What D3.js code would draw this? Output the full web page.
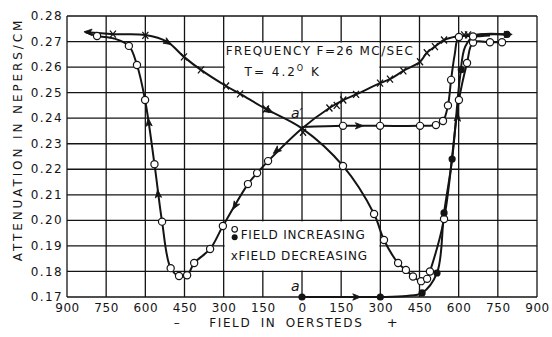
<!DOCTYPE html>
<html>
<head>
<meta charset="utf-8">
<script src="https://cdn.jsdelivr.net/npm/d3@7"></script>
<style>
body { margin: 0; background: #fff; }
svg text { font-family: "DejaVu Sans", sans-serif; fill: #141414; }
</style>
</head>
<body>
<div id="chart"></div>
<script>
// axis ticks
var fieldTicks = [-900, -750, -600, -450, -300, -150, 0, 150, 300, 450, 600, 750, 900];
var attnTicks = [0.17, 0.18, 0.19, 0.20, 0.21, 0.22, 0.23, 0.24, 0.25, 0.26, 0.27, 0.28];

// curves, [field (Oe), attenuation (nepers/cm)]
// from negative saturation, field decreasing to a', then increasing to positive saturation
var loopNegToPos = [[-830,0.2737],[-724,0.2729],[-600,0.2726],[-517,0.2700],[-452,0.2640],[-387,0.2589],[-291,0.2526],[-237,0.2495],[-138,0.2436],[0,0.2360],[157,0.2213],[276,0.2025],[314,0.1923],[368,0.1833],[398,0.1806],[425,0.1780],[456,0.1762],[479,0.1771],[490,0.1800],[544,0.2005],[601,0.2471],[632,0.2616],[655,0.2696],[720,0.2697],[766,0.2697]];
// from positive saturation, field decreasing to a', then increasing to negative saturation
var loopPosToNeg = [[785,0.2728],[700,0.2728],[636,0.2726],[590,0.2720],[544,0.2706],[509,0.2680],[478,0.2656],[452,0.2621],[388,0.2585],[337,0.2553],[299,0.2537],[207,0.2493],[158,0.2471],[105,0.2440],[0,0.2360],[-130,0.2232],[-172,0.2185],[-207,0.2142],[-303,0.1978],[-352,0.1888],[-413,0.1833],[-440,0.1785],[-471,0.1782],[-503,0.1813],[-536,0.1995],[-565,0.2220],[-601,0.2471],[-632,0.2608],[-663,0.2683],[-720,0.2712],[-785,0.2722],[-830,0.2737]];
// from a', field increasing
var fromAPrime = [[0,0.2365],[157,0.2370],[299,0.2370],[452,0.2370],[513,0.2373],[540,0.2389],[559,0.2450],[571,0.2550],[585,0.2650],[601,0.2718],[655,0.2720],[720,0.2724]];
// virgin curve from a
var fromA = [[0,0.1700],[150,0.1700],[300,0.1700],[400,0.1704],[460,0.1716],[517,0.1794],[544,0.2029],[575,0.2240],[605,0.2560],[625,0.2680],[660,0.2722],[785,0.2728]];

// measured points
var openPts = [[157,0.2213],[276,0.2025],[314,0.1923],[368,0.1833],[398,0.1806],[425,0.1780],[456,0.1762],[479,0.1771],[490,0.1800],[544,0.2005],[601,0.2471],[632,0.2616],[655,0.2696],[720,0.2697],[766,0.2697],
  [-130,0.2232],[-172,0.2185],[-207,0.2142],[-303,0.1978],[-352,0.1888],[-413,0.1833],[-440,0.1785],[-471,0.1782],[-503,0.1813],[-536,0.1995],[-565,0.2220],[-601,0.2471],[-632,0.2608],[-663,0.2683],[-785,0.2722],
  [157,0.2370],[299,0.2370],[452,0.2370],[513,0.2373],[540,0.2389],[559,0.2450],[571,0.2550],[601,0.2718],[655,0.2720]];
var filledPts = [[0,0.1700],[300,0.1700],[460,0.1716],[517,0.1794],[544,0.2029],[575,0.2240],[610,0.2590],[785,0.2728]];
var crossPts = [[-724,0.2729],[-600,0.2724],[-452,0.2640],[-387,0.2589],[-291,0.2526],[-237,0.2495],[-138,0.2436],[4,0.2345],
  [105,0.2440],[133,0.2450],[158,0.2471],[207,0.2493],[299,0.2537],[337,0.2553],[388,0.2585],[452,0.2621],[478,0.2656],[509,0.2680],[544,0.2706],[621,0.2726],[636,0.2726]];

// direction arrows: [tip, tail]
var arrows = [
  [[-835,0.2738],[-800,0.2736]],
  [[-500,0.2688],[-535,0.2710]],
  [[-112,0.2421],[-150,0.2443]],
  [[-110,0.2262],[-75,0.2292]],
  [[-265,0.2043],[-235,0.2094]],
  [[-589,0.2400],[-582,0.2330]],
  [[-553,0.2120],[-546,0.2050]],
  [[235,0.2370],[200,0.2370]],
  [[225,0.1700],[190,0.1700]],
  [[805,0.2728],[765,0.2728]],
  [[597,0.2420],[592,0.2350]]
];

var W = 552, H = 337;
var margin = { top: 16, right: 15, bottom: 40, left: 67 },
    width = W - margin.left - margin.right,
    height = H - margin.top - margin.bottom;

var svg = d3.select("#chart").append("svg")
    .attr("width", W).attr("height", H);
var g = svg.append("g")
    .attr("transform", "translate(" + margin.left + "," + margin.top + ")");

var x = d3.scaleLinear().domain([-900, 900]).range([0, width]);
var y = d3.scaleLinear().domain([0.17, 0.28]).range([height, 0]);
var ink = "#141414";

// grid
g.selectAll(".vgrid").data(fieldTicks).enter().append("line")
    .attr("x1", d => x(d)).attr("x2", d => x(d))
    .attr("y1", 0).attr("y2", height)
    .attr("stroke", ink).attr("stroke-width", 1.3);
g.selectAll(".hgrid").data(attnTicks).enter().append("line")
    .attr("x1", 0).attr("x2", width)
    .attr("y1", d => y(d)).attr("y2", d => y(d))
    .attr("stroke", ink).attr("stroke-width", 1.3);

// white boxes for the title and the legend
function whiteBox(h0, h1, a0, a1) {
  g.append("rect")
    .attr("x", x(h0) + 1).attr("y", y(a1) + 1)
    .attr("width", x(h1) - x(h0) - 2).attr("height", y(a0) - y(a1) - 2)
    .attr("fill", "#fff");
}
whiteBox(-300, 300, 0.25, 0.27);
whiteBox(-300, 300, 0.18, 0.20);

// axes
var xAxis = g.append("g")
    .attr("transform", "translate(0," + height + ")")
    .call(d3.axisBottom(x).tickValues(fieldTicks).tickSize(0).tickPadding(6)
      .tickFormat(d => Math.abs(d)));
xAxis.select(".domain").remove();
xAxis.selectAll("text").style("font-size", "12px").style("letter-spacing", "0.6px")
    .attr("fill", ink);

var yAxis = g.append("g")
    .call(d3.axisLeft(y).tickValues(attnTicks).tickSize(0).tickPadding(4)
      .tickFormat(d3.format(".2f")));
yAxis.select(".domain").remove();
yAxis.selectAll("text").style("font-size", "12px").style("letter-spacing", "1.4px")
    .attr("fill", ink).attr("dy", "0.3em");

// titles
svg.append("text")
    .attr("transform", "translate(18," + (margin.top + height / 2 - 17) + ")rotate(-90)")
    .attr("text-anchor", "middle")
    .attr("dy", "0.36em")
    .style("font-size", "12px").style("letter-spacing", "2.9px")
    .text("ATTENUATION IN NEPERS/CM");

svg.append("text")
    .attr("x", margin.left + x(-60)).attr("y", 327)
    .attr("text-anchor", "middle")
    .style("font-size", "12px").style("letter-spacing", "1.6px").style("word-spacing", "4px")
    .text("FIELD IN OERSTEDS");
svg.append("text").attr("x", margin.left + x(-480)).attr("y", 327)
    .attr("text-anchor", "middle").style("font-size", "12px").text("–");
svg.append("text").attr("x", margin.left + x(345)).attr("y", 327)
    .attr("text-anchor", "middle").style("font-size", "13px").text("+");

// curves
var line = d3.line()
    .x(d => x(d[0])).y(d => y(d[1]))
    .curve(d3.curveCatmullRom.alpha(0.5));

[loopNegToPos, loopPosToNeg, fromAPrime, fromA].forEach(function (c) {
  g.append("path").datum(c)
    .attr("d", line)
    .attr("fill", "none").attr("stroke", ink)
    .attr("stroke-width", 2).attr("stroke-linejoin", "round");
});

// arrows
g.selectAll(".arrow").data(arrows).enter().append("path")
    .attr("transform", function (d) {
      var tx = x(d[0][0]), ty = y(d[0][1]);
      var ang = Math.atan2(ty - y(d[1][1]), tx - x(d[1][0])) * 180 / Math.PI;
      return "translate(" + tx + "," + ty + ")rotate(" + ang + ")";
    })
    .attr("d", "M0,0L-8,-3.2L-6,0L-8,3.2Z")
    .attr("fill", ink).attr("stroke", ink).attr("stroke-width", 0.8);

// markers
g.selectAll(".cross").data(crossPts).enter().append("path")
    .attr("transform", d => "translate(" + x(d[0]) + "," + y(d[1]) + ")")
    .attr("d", "M-3,-3.5L3,3.5M-3,3.5L3,-3.5")
    .attr("stroke", ink).attr("stroke-width", 1.3);

g.selectAll(".open").data(openPts).enter().append("circle")
    .attr("cx", d => x(d[0])).attr("cy", d => y(d[1]))
    .attr("r", 3.6)
    .attr("fill", "#fff").attr("stroke", ink).attr("stroke-width", 1.2);

g.selectAll(".filled").data(filledPts).enter().append("circle")
    .attr("cx", d => x(d[0])).attr("cy", d => y(d[1]))
    .attr("r", 3.6).attr("fill", ink);

// point labels
g.append("text").attr("x", x(0) - 11).attr("y", y(0.17) - 6)
    .style("font-size", "14px").style("font-style", "italic").text("a");
g.append("text").attr("x", x(0) - 11).attr("y", y(0.236) - 10)
    .style("font-size", "14px").style("font-style", "italic").text("a′");

// title box text
g.append("text").attr("x", x(-300) + 2).attr("y", y(0.27) + 13)
    .style("font-size", "12px").style("letter-spacing", "1.4px")
    .text("FREQUENCY F=26 MC/SEC");
var tt = g.append("text").attr("x", x(-220)).attr("y", y(0.26) + 9)
    .style("font-size", "12px").style("letter-spacing", "2px");
tt.append("tspan").text("T= 4.2");
tt.append("tspan").attr("dy", -5).style("font-size", "8px").text("O");
tt.append("tspan").attr("dy", 5).text(" K");

// legend
var lx = x(-300);
g.append("circle").attr("cx", lx + 11).attr("cy", y(0.20) + 9).attr("r", 2.8)
    .attr("fill", "#fff").attr("stroke", ink).attr("stroke-width", 1.1);
g.append("circle").attr("cx", lx + 11).attr("cy", y(0.20) + 17).attr("r", 3).attr("fill", ink);
g.append("text").attr("x", lx + 17).attr("y", y(0.20) + 19)
    .style("font-size", "12px").style("letter-spacing", "0.8px").text("FIELD INCREASING");
g.append("text").attr("x", lx + 7).attr("y", y(0.20) + 40)
    .style("font-size", "12px").style("letter-spacing", "0.8px").text("xFIELD DECREASING");
</script>
</body>
</html>
